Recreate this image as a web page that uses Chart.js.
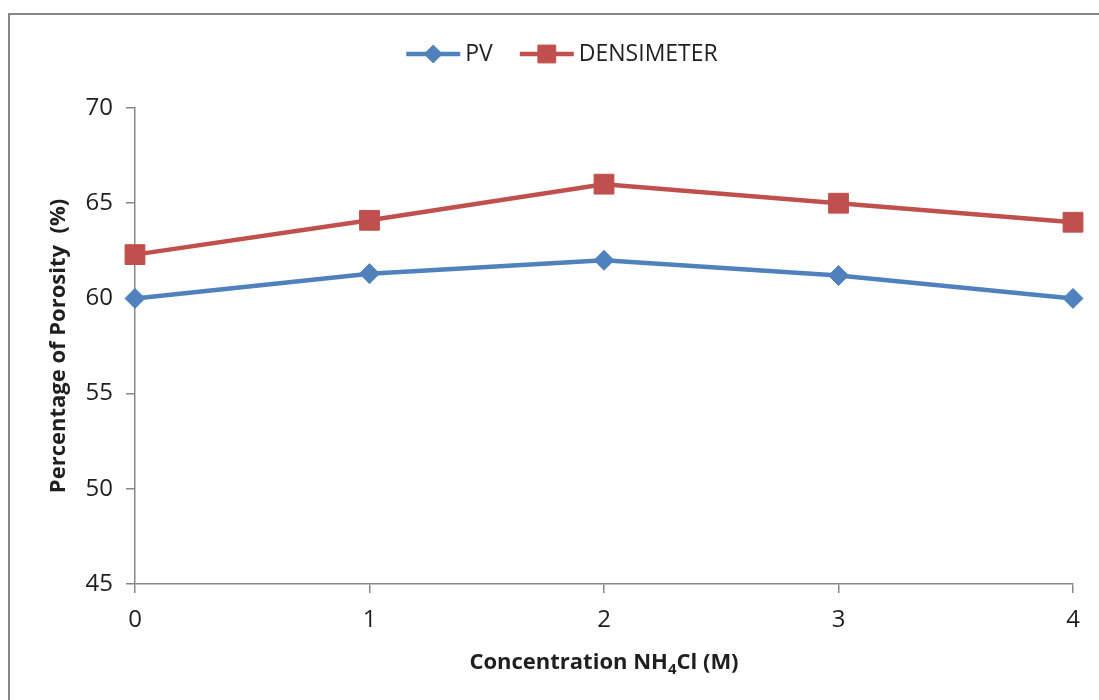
<!DOCTYPE html>
<html lang="en">
<head>
    <meta charset="UTF-8">
    <title>Porosity vs NH4Cl Concentration</title>
    <script src="https://cdn.jsdelivr.net/npm/chart.js"></script>
    <style>
        html, body { margin: 0; padding: 0; background: #fff; overflow: hidden; }
        .frame {
            position: absolute; left: 8px; top: 13px;
            width: 1200px; height: 800px;
            border-top: 2px solid #878787; border-left: 2px solid #878787;
        }
        #porosityChart { position: absolute; left: 0; top: 0; }
    </style>
</head>
<body>
    <div class="frame"></div>
    <canvas id="porosityChart" width="1099" height="700"></canvas>

    <script>
        // Concentration (M) and measured porosity (%)
        const concentrations = ['0', '1', '2', '3', '4'];
        const pvValues = [60, 61.3, 62, 61.2, 60];
        const densimeterValues = [62.3, 64.1, 66, 65, 64];
        const yTicks = [45, 50, 55, 60, 65, 70];

        const textColor = '#1f1f1f';
        const axisColor = '#878787';
        const blue = '#4f81bd';
        const red = '#c0504d';

        // Legend drawn as line + marker, like the series themselves
        const lineLegend = {
            id: 'lineLegend',
            afterDraw(chart) {
                const ctx = chart.ctx;
                const font = '23px "Open Sans"';
                const lineLen = 54, textGap = 5, itemGap = 27;
                ctx.save();
                ctx.font = font;
                const items = chart.data.datasets.map(ds => ({ ds, w: lineLen + textGap + ctx.measureText(ds.label).width }));
                const total = items.reduce((s, it) => s + it.w, 0) + itemGap * (items.length - 1);
                let x = 562 - total / 2;
                const y = 54;
                items.forEach(({ ds, w }) => {
                    ctx.strokeStyle = ds.borderColor;
                    ctx.lineWidth = ds.borderWidth;
                    ctx.beginPath();
                    ctx.moveTo(x, y);
                    ctx.lineTo(x + lineLen, y);
                    ctx.stroke();
                    ctx.fillStyle = ds.pointBackgroundColor;
                    ctx.strokeStyle = ds.pointBorderColor;
                    ctx.lineWidth = 1;
                    Chart.helpers.drawPoint(ctx, {
                        pointStyle: ds.pointStyle,
                        radius: ds.pointRadius * 0.9,
                        borderWidth: 1
                    }, x + lineLen / 2, y);
                    ctx.fillStyle = textColor;
                    ctx.font = font;
                    ctx.textBaseline = 'middle';
                    ctx.textAlign = 'left';
                    ctx.fillText(ds.label, x + lineLen + textGap, y);
                    x += w + itemGap;
                });
                ctx.restore();
            }
        };

        // X axis title with a subscript 4 in NH4Cl
        const xTitle = {
            id: 'xTitle',
            afterDraw(chart) {
                const ctx = chart.ctx;
                const parts = [
                    { t: 'Concentration NH', f: 'bold 22px "Open Sans"', dy: 0 },
                    { t: '4', f: 'bold 15px "Open Sans"', dy: 5 },
                    { t: 'Cl (M)', f: 'bold 22px "Open Sans"', dy: 0 }
                ];
                ctx.save();
                ctx.fillStyle = textColor;
                ctx.textBaseline = 'alphabetic';
                ctx.textAlign = 'left';
                let total = 0;
                parts.forEach(p => { ctx.font = p.f; p.w = ctx.measureText(p.t).width; total += p.w; });
                const area = chart.chartArea;
                let x = (area.left + area.right) / 2 - total / 2;
                parts.forEach(p => {
                    ctx.font = p.f;
                    ctx.fillText(p.t, x, 669 + p.dy);
                    x += p.w;
                });
                ctx.restore();
            }
        };

        new Chart(document.getElementById('porosityChart'), {
            type: 'line',
            data: {
                labels: concentrations,
                datasets: [
                    {
                        label: 'PV',
                        data: pvValues,
                        borderColor: blue,
                        backgroundColor: blue,
                        pointBackgroundColor: blue,
                        pointBorderColor: blue,
                        borderWidth: 4.5,
                        pointStyle: 'rectRot',
                        pointRadius: 10,
                        pointBorderWidth: 1,
                        tension: 0,
                        clip: false
                    },
                    {
                        label: 'DENSIMETER',
                        data: densimeterValues,
                        borderColor: red,
                        backgroundColor: red,
                        pointBackgroundColor: red,
                        pointBorderColor: red,
                        borderWidth: 4.5,
                        pointStyle: 'rect',
                        pointRadius: 14,
                        pointBorderWidth: 1,
                        tension: 0,
                        clip: false
                    }
                ]
            },
            options: {
                responsive: false,
                animation: false,
                layout: { padding: { left: 0, right: 26, top: 108, bottom: 0 } },
                plugins: {
                    legend: { display: false },
                    tooltip: { enabled: false }
                },
                scales: {
                    x: {
                        offset: false,
                        grid: { drawOnChartArea: false, color: axisColor, tickLength: 9, lineWidth: 1.5 },
                        border: { color: axisColor, width: 1.5 },
                        ticks: { color: textColor, font: { family: 'Open Sans', size: 24 }, padding: 13, maxRotation: 0 },
                        afterFit(scale) { scale.height = 116; }
                    },
                    y: {
                        min: 45,
                        max: 70,
                        afterBuildTicks(scale) { scale.ticks = yTicks.map(v => ({ value: v })); },
                        grid: { drawOnChartArea: false, color: axisColor, tickLength: 9, lineWidth: 1.5 },
                        border: { color: axisColor, width: 1.5 },
                        ticks: { color: textColor, font: { family: 'Open Sans', size: 24 }, padding: 13 },
                        title: {
                            display: true,
                            text: 'Percentage of Porosity  (%)',
                            color: textColor,
                            font: { family: 'Open Sans', size: 22, weight: 'bold' },
                            padding: { top: 46, bottom: 0 }
                        },
                        afterFit(scale) { scale.width = 135; }
                    }
                }
            },
            plugins: [lineLegend, xTitle]
        });
    </script>
</body>
</html>
